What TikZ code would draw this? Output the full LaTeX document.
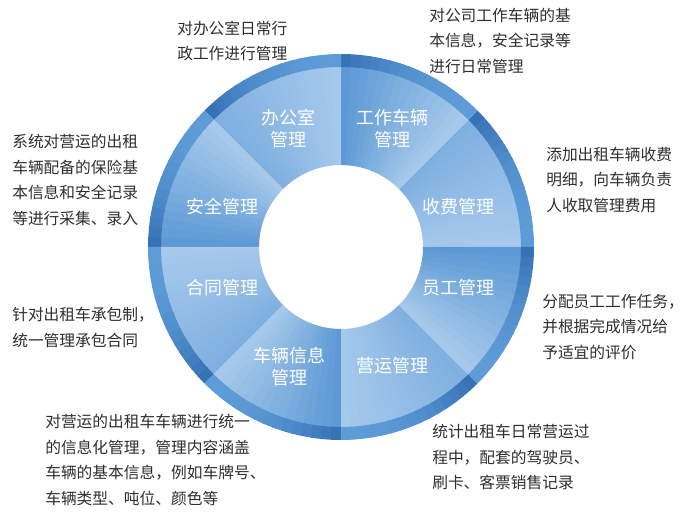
\documentclass[tikz,border=0pt]{standalone}
\usepackage{fontspec}
\setmainfont{Noto Sans CJK SC}
\usetikzlibrary{positioning, calc}
\definecolor{cRimDark}{HTML}{3672B6}
\definecolor{cRimLight}{HTML}{5E9CD8}
\definecolor{cSegStrong}{HTML}{5C99D5}
\definecolor{cSegMild}{HTML}{80B0E0}
\definecolor{cSegLight}{HTML}{A6C9EB}
\definecolor{cText}{HTML}{2E2E2E}
\tikzset{
  seglabel/.style={
    font=\fontsize{13.5}{16.5}\selectfont, text=white,
    align=center, inner sep=0pt
  },
  notetext/.style={
    font=\fontsize{11.8}{19.2}\selectfont, text=cText,
    align=left, anchor=west, inner sep=0pt
  },
}

\begin{document}
\begin{tikzpicture}[x=0.75pt, y=0.75pt]
\useasboundingbox (0,0) rectangle (698,517);

% ---- ring segments ----
\begin{scope}[shift={(341,270)}]
  \foreach \i/\dk in {0/cSegMild,1/cSegStrong,2/cSegMild,3/cSegStrong,
                      4/cSegMild,5/cSegStrong,6/cSegMild,7/cSegStrong}{
    \foreach \j in {0,...,14}{
      \pgfmathsetmacro\ta{45*\i+3*\j}
      \pgfmathsetmacro\tb{\ta+(\j<14 ? 3.4 : 3)}
      \pgfmathtruncatemacro\p{100*\j/14}
      \fill[color=\dk!\p!cSegLight] (\ta:82) arc[start angle=\ta, end angle=\tb, radius=82]
        -- (\tb:181) arc[start angle=\tb, end angle=\ta, radius=181] -- cycle;
    }
  }
  % ---- outer rim ----
  \foreach \i in {0,...,7}{
    \foreach \j in {0,...,14}{
      \pgfmathsetmacro\ta{45*\i+3*\j}
      \pgfmathsetmacro\tb{\ta+(\j<14 ? 3.4 : 3)}
      \pgfmathtruncatemacro\p{100*(\j/14)^2}
      \fill[color=cRimDark!\p!cRimLight] (\ta:180) arc[start angle=\ta, end angle=\tb, radius=180]
        -- (\tb:193) arc[start angle=\tb, end angle=\ta, radius=193] -- cycle;
    }
  }
\end{scope}

% ---- segment labels ----
\node[seglabel] (office) at (288,388) {办公室\\管理};
\node[seglabel] (workcar) at (392,388) {工作车辆\\管理};
\node[seglabel] (fee) at (458,310) {收费管理};
\node[seglabel] (staff) at (458,229) {员工管理};
\node[seglabel] (operate) at (392,151) {营运管理};
\node[seglabel] (carinfo) at (289,150) {车辆信息\\管理};
\node[seglabel] (contract) at (222,229) {合同管理};
\node[seglabel] (safety) at (222,310) {安全管理};

% ---- notes ----
\node[notetext] (officeNote) at (177,476) {对办公室日常行\\政工作进行管理};
\node[notetext] (workcarNote) at (429,476) {对公司工作车辆的基\\本信息，安全记录等\\进行日常管理};
\node[notetext] (feeNote) at (546,337) {添加出租车辆收费\\明细，向车辆负责\\人收取管理费用};
\node[notetext] (safetyNote) at (12,337) {系统对营运的出租\\车辆配备的保险基\\本信息和安全记录\\等进行采集、录入};
\node[notetext] (contractNote) at (12,189.5) {针对出租车承包制，\\统一管理承包合同};
\node[notetext] (carinfoNote) at (45,57) {对营运的出租车车辆进行统一\\的信息化管理，管理内容涵盖\\车辆的基本信息，例如车牌号、\\车辆类型、吨位、颜色等};
\node[notetext] (staffNote) at (542,190) {分配员工工作任务，\\并根据完成情况给\\予适宜的评价};
\node[notetext] (operateNote) at (432,60) {统计出租车日常营运过\\程中，配套的驾驶员、\\刷卡、客票销售记录};

\end{tikzpicture}
\end{document}
